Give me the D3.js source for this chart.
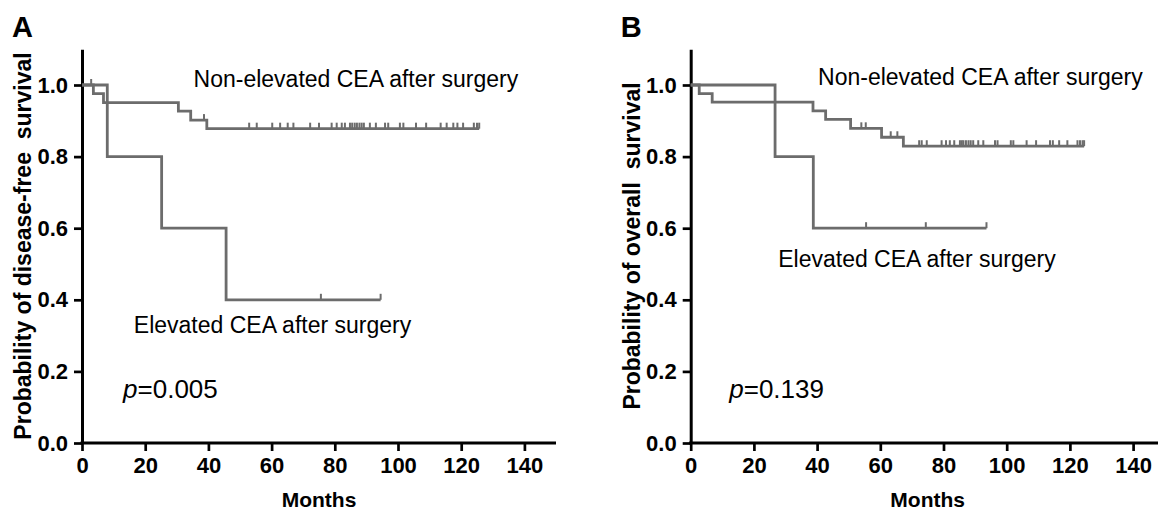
<!DOCTYPE html>
<html>
<head>
<meta charset="utf-8">
<script src="https://cdn.jsdelivr.net/npm/d3@7"></script>
<style>
  body { margin: 0; background: #fff; }
  svg { display: block; font-family: "Liberation Sans", Arial, sans-serif; }
</style>
</head>
<body>
<div id="chart"></div>
<script>
// step points [months, survival]
const dfsNonElevated = [[0, 1], [3.6, 0.976], [6.8, 0.951], [30.5, 0.927], [34.4, 0.902], [39.5, 0.878], [125.7, 0.878]]
const dfsElevated = [[0, 1], [8, 0.8], [25.2, 0.6], [45.6, 0.4], [94.5, 0.4]]
const dfsNonCensored = [2.9, 38.6, 52.9, 55.3, 60.2, 62.7, 65.1, 66.9, 72.2, 75.0, 79.0, 80.6, 82.2, 83.2, 84.8, 85.5,
    86.3, 87.0, 87.8, 88.5, 89.2, 91.1, 93.0, 95.9, 96.9, 100.6, 101.7, 105.7, 108.9, 113.5, 115.4, 117.5, 118.8,
    120.6, 124.0, 125.0, 125.7]
const dfsElevCensored = [75.6, 94.5]

const osNonElevated = [[0, 1], [2.7, 0.976], [6.8, 0.952], [38.7, 0.928], [42.7, 0.904], [50.6, 0.879], [60.4, 0.854],
    [67.3, 0.829], [124.5, 0.829]]
const osElevated = [[0, 1], [26.7, 0.8], [38.8, 0.6], [93.6, 0.6]]
const osNonCensored = [54.0, 55.4, 63.3, 65.4, 72.3, 73.1, 74.7, 79.4, 80.8, 82.0, 83.4, 85.2, 85.8, 86.3, 87.1, 87.9,
    88.6, 89.4, 91.0, 92.6, 96.3, 97.1, 101.3, 102.1, 106.3, 109.3, 113.7, 114.6, 116.6, 119.2, 122.4, 123.2, 124.0, 124.5]
const osElevCensored = [55.5, 74.4, 93.6]

const xTicks = [0, 20, 40, 60, 80, 100, 120, 140]
const yTicks = [0, 0.2, 0.4, 0.6, 0.8, 1.0]

const panels = [
    {
        letter: 'A', left: 82, yTitle: 'Probability of disease-free\u00a0 survival',
        curves: [[dfsNonElevated, dfsNonCensored], [dfsElevated, dfsElevCensored]],
        notes: [
            {text: 'Non-elevated CEA after surgery', x: 35.3, y: 0.995},
            {text: 'Elevated CEA after surgery', x: 16.4, y: 0.306}
        ],
        p: {value: '=0.005', x: 13, y: 0.126}
    },
    {
        letter: 'B', left: 690.7, yTitle: 'Probability of overall\u00a0 survival',
        curves: [[osNonElevated, osNonCensored], [osElevated, osElevCensored]],
        notes: [
            {text: 'Non-elevated CEA after surgery', x: 40.3, y: 1.0},
            {text: 'Elevated CEA after surgery', x: 27.7, y: 0.492}
        ],
        p: {value: '=0.139', x: 12.2, y: 0.126}
    }
]

const width = 1158, height = 511
const curveColor = '#6c6c6c'

const svg = d3.select('#chart').append('svg')
    .attr('width', width)
    .attr('height', height)
    .attr('viewBox', [0, 0, width, height])

const y = d3.scaleLinear().domain([0, 1.1]).range([443, 49.2])

// survival value of a step curve at time t
function survivalAt(steps, t) {
    let s = steps[0][1]
    for (const [ti, si] of steps) if (ti <= t) s = si
    return s
}

panels.forEach(p => {
    const x = d3.scaleLinear().domain([0, 150]).range([p.left, p.left + 474])
    const g = svg.append('g')

    //x axis
    g.append('g')
        .attr('transform', `translate(0,${y(0)})`)
        .call(d3.axisBottom(x).tickValues(xTicks).tickSize(8).tickSizeOuter(0).tickPadding(6))
        .call(a => a.select('.domain').attr('stroke-width', 3).attr('d', `M${x(0) - 1.5},0H${x(150)}`))
        .call(a => a.selectAll('.tick line').attr('stroke-width', 2.7))
        .call(a => a.selectAll('.tick text').attr('font-size', 22).attr('font-weight', 'bold')
            .attr('font-family', '"Liberation Sans", Arial, sans-serif').attr('fill', '#000'))

    //y axis
    g.append('g')
        .attr('transform', `translate(${p.left},0)`)
        .call(d3.axisLeft(y).tickValues(yTicks).tickFormat(d3.format('.1f')).tickSize(8).tickSizeOuter(0).tickPadding(6))
        .call(a => a.select('.domain').attr('stroke-width', 3))
        .call(a => a.selectAll('.tick line').attr('stroke-width', 2.7))
        .call(a => a.selectAll('.tick text').attr('font-size', 22).attr('font-weight', 'bold')
            .attr('font-family', '"Liberation Sans", Arial, sans-serif').attr('fill', '#000'))

    //curves
    const line = d3.line().x(d => x(d[0])).y(d => y(d[1])).curve(d3.curveStepAfter)
    p.curves.forEach(([steps, censored]) => {
        g.append('path')
            .attr('d', line(steps))
            .attr('fill', 'none')
            .attr('stroke', curveColor)
            .attr('stroke-width', 2.8)
        g.append('g').selectAll('line')
            .data(censored)
            .join('line')
            .attr('x1', d => x(d)).attr('x2', d => x(d))
            .attr('y1', d => y(survivalAt(steps, d)))
            .attr('y2', d => y(survivalAt(steps, d)) - 6)
            .attr('stroke', curveColor)
            .attr('stroke-width', 2)
    })

    //annotations
    g.append('g').selectAll('text')
        .data(p.notes)
        .join('text')
        .attr('x', d => x(d.x))
        .attr('y', d => y(d.y))
        .attr('font-size', 23)
        .attr('fill', '#000')
        .text(d => d.text)

    const pt = g.append('text')
        .attr('x', x(p.p.x))
        .attr('y', y(p.p.y))
        .attr('font-size', 26)
    pt.append('tspan').attr('font-style', 'italic').text('p')
    pt.append('tspan').text(p.p.value)

    //titles
    g.append('text')
        .attr('transform', `translate(${p.left - 51},246) rotate(-90)`)
        .attr('text-anchor', 'middle')
        .attr('font-size', 23)
        .attr('font-weight', 'bold')
        .text(p.yTitle)

    g.append('text')
        .attr('x', x(75))
        .attr('y', 506.5)
        .attr('text-anchor', 'middle')
        .attr('font-size', 21)
        .attr('font-weight', 'bold')
        .text('Months')

    g.append('text')
        .attr('x', p.left - 70)
        .attr('y', 36.5)
        .attr('font-size', 29)
        .attr('font-weight', 'bold')
        .text(p.letter)
})
</script>
</body>
</html>
